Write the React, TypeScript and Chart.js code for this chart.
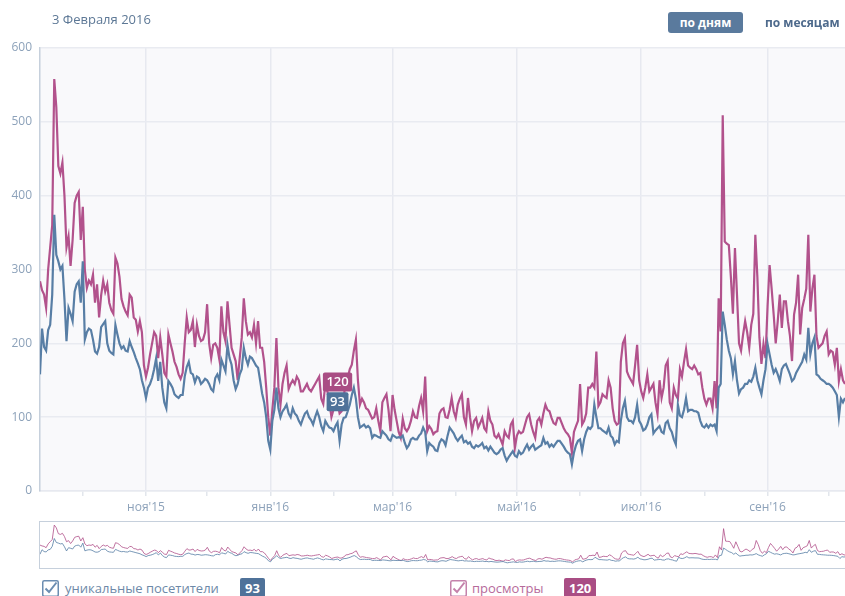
import React, { useEffect, useRef } from "react";
import { Chart, registerables } from "chart.js";
Chart.register(...registerables);

// Daily data starting 2015-09-10 (day 0)
const START_DATE = "2015-09-10";
const MONTH_TICK_DAYS = [21, 52, 82, 113, 144, 173, 204, 234, 265, 295, 326, 357, 387];
const MONTH_TICK_LABELS = ["", "ноя'15", "", "янв'16", "", "мар'16", "", "май'16", "", "июл'16", "", "сен'16", ""];
const Y_MIN = 0;
const Y_MAX = 600;
const Y_STEP = 100;

const VIEWS = [
  284, 272, 266, 248, 300, 330, 360, 558, 520, 440,
  430, 445, 400, 330, 345, 305, 340, 390, 400, 405,
  340, 385, 300, 275, 285, 280, 293, 255, 280, 235,
  265, 285, 270, 280, 255, 245, 240, 316, 308, 290,
  260, 250, 243, 238, 266, 262, 235, 232, 216, 230,
  215, 170, 155, 167, 185, 200, 215, 210, 180, 208,
  185, 160, 155, 212, 200, 189, 175, 168, 158, 152,
  160, 200, 235, 215, 218, 230, 195, 225, 210, 203,
  205, 215, 253, 200, 180, 198, 200, 194, 178, 250,
  215, 203, 257, 225, 194, 185, 176, 150, 180, 208,
  261, 230, 212, 215, 208, 225, 200, 230, 194, 194,
  175, 140, 100, 75, 110, 140, 207, 140, 117, 145,
  160, 170, 138, 145, 150, 145, 155, 150, 135, 135,
  140, 145, 138, 135, 140, 145, 150, 155, 125, 118,
  145, 135, 120, 100, 110, 117, 120, 105, 108, 125,
  150, 153, 165, 171, 190, 205, 150, 117, 125, 120,
  112, 110, 104, 98, 100, 112, 95, 81, 120, 126,
  131, 110, 81, 130, 110, 95, 80, 72, 98, 85,
  81, 86, 95, 108, 100, 99, 115, 126, 108, 155,
  81, 88, 84, 77, 80, 81, 105, 110, 112, 100,
  99, 110, 126, 108, 99, 117, 125, 131, 100, 90,
  126, 100, 81, 95, 99, 86, 92, 99, 85, 81,
  108, 95, 90, 75, 72, 77, 70, 63, 81, 75,
  72, 90, 95, 58, 75, 81, 78, 80, 90, 100,
  104, 90, 80, 72, 95, 99, 90, 105, 117, 110,
  108, 99, 92, 90, 99, 99, 92, 85, 80, 77,
  72, 52, 80, 88, 95, 145, 90, 95, 105, 140,
  140, 145, 140, 189, 115, 120, 131, 128, 126, 150,
  140, 112, 95, 90, 92, 175, 200, 207, 162, 155,
  150, 145, 170, 198, 150, 135, 126, 140, 158, 135,
  140, 145, 120, 104, 150, 126, 140, 170, 176, 120,
  112, 140, 130, 125, 165, 155, 175, 192, 170, 167,
  165, 170, 165, 158, 160, 140, 125, 117, 125, 125,
  112, 149, 112, 261, 216, 509, 338, 335, 333, 290,
  240, 329, 266, 200, 190, 212, 230, 215, 194, 225,
  240, 347, 290, 208, 172, 199, 180, 250, 306, 274,
  239, 200, 230, 266, 221, 257, 257, 230, 210, 176,
  239, 255, 293, 212, 248, 260, 274, 347, 243, 274,
  293, 210, 194, 197, 200, 210, 216, 185, 190, 188,
  171, 194, 149, 165, 150, 145,
];

const VISITORS = [
  158, 220, 195, 190, 218, 225, 266, 374, 320, 311,
  300, 305, 260, 203, 248, 240, 230, 270, 280, 284,
  255, 311, 205, 215, 220, 218, 205, 189, 186, 195,
  222, 226, 230, 200, 190, 187, 185, 225, 212, 200,
  193, 196, 190, 189, 203, 195, 188, 180, 173, 165,
  150, 140, 126, 140, 145, 153, 165, 180, 149, 175,
  140, 120, 112, 149, 145, 140, 131, 128, 126, 130,
  130, 155, 168, 175, 160, 158, 147, 155, 153, 145,
  148, 152, 150, 145, 138, 135, 153, 158, 150, 178,
  170, 162, 198, 180, 171, 150, 138, 145, 158, 165,
  194, 180, 171, 182, 180, 175, 170, 167, 150, 132,
  120, 100, 68, 56, 95, 110, 140, 112, 100, 108,
  112, 117, 105, 100, 112, 105, 102, 95, 90, 98,
  105, 108, 100, 96, 90, 100, 108, 100, 88, 81,
  95, 90, 86, 85, 81, 88, 93, 68, 90, 99,
  100, 108, 117, 130, 140, 125, 100, 86, 88, 90,
  86, 88, 85, 72, 76, 75, 73, 72, 81, 78,
  75, 70, 68, 76, 74, 72, 73, 72, 75, 65,
  58, 62, 70, 72, 70, 70, 75, 78, 86, 80,
  54, 65, 62, 60, 55, 54, 65, 70, 68, 62,
  75, 86, 82, 78, 72, 68, 72, 75, 66, 68,
  64, 66, 60, 58, 62, 60, 62, 65, 58, 60,
  55, 60, 56, 52, 50, 52, 56, 58, 48, 41,
  46, 50, 54, 48, 46, 54, 50, 52, 58, 63,
  56, 60, 63, 56, 58, 60, 62, 72, 64, 66,
  60, 63, 60, 64, 68, 68, 64, 60, 55, 52,
  50, 36, 52, 62, 68, 70, 54, 70, 80, 86,
  84, 88, 117, 100, 85, 85, 82, 80, 78, 86,
  75, 72, 63, 68, 66, 95, 112, 122, 100, 95,
  95, 92, 100, 117, 95, 90, 82, 84, 90, 100,
  104, 78, 82, 85, 88, 80, 78, 92, 95, 85,
  80, 70, 63, 117, 102, 100, 110, 126, 108, 110,
  110, 108, 108, 106, 95, 88, 86, 90, 86, 90,
  88, 90, 81, 140, 145, 243, 225, 205, 190, 180,
  158, 176, 150, 132, 138, 140, 145, 145, 150, 148,
  155, 167, 150, 140, 131, 150, 165, 199, 185, 171,
  160, 165, 158, 149, 165, 170, 172, 165, 158, 149,
  152, 160, 165, 170, 175, 185, 178, 221, 185, 200,
  208, 158, 156, 152, 150, 148, 145, 145, 143, 140,
  135, 130, 100, 125, 120, 126,
];

const HOVER_INDEX = 146;
const HOVER_TITLE = "3 Февраля 2016";
const SERIES_NAMES = ["уникальные посетители", "просмотры"];
const PERIOD_BUTTONS = ["по дням", "по месяцам"];

const BLUE = "#587ea5";
const PINK = "#b2528c";
const BLUE_BADGE = "#4f7299";
const PINK_BADGE = "#a94d84";
const FONT = "'Open Sans', 'DejaVu Sans', sans-serif";
const TICK_COLOR = "#8da2ba";

const LAST_DAY = VIEWS.length - 1;

const toPoints = (arr: number[]) => arr.map((v, i) => ({ x: i, y: v }));

const bgPlugin = {
  id: "plotBg",
  beforeDraw(chart: any) {
    const { ctx, chartArea: a } = chart;
    ctx.save();
    ctx.fillStyle = "#f9f9fb";
    ctx.fillRect(a.left, a.top, a.right - a.left, a.bottom - a.top);
    ctx.restore();
  },
};

const hoverPlugin = {
  id: "hoverLabels",
  afterDatasetsDraw(chart: any) {
    const ctx = chart.ctx;
    const items = [
      { ds: 1, color: PINK_BADGE, text: String(VIEWS[HOVER_INDEX]) },
      { ds: 0, color: BLUE_BADGE, text: String(VISITORS[HOVER_INDEX]) },
    ];
    ctx.save();
    ctx.font = `600 13px ${FONT}`;
    for (const it of items) {
      const pt = chart.getDatasetMeta(it.ds).data[HOVER_INDEX];
      if (!pt) continue;
      const w = ctx.measureText(it.text).width + 7;
      const h = 19;
      const x = pt.x - w / 2;
      const y = pt.y - 11 - h;
      ctx.fillStyle = it.color;
      ctx.beginPath();
      if ((ctx as any).roundRect) (ctx as any).roundRect(x, y, w, h, 2);
      else ctx.rect(x, y, w, h);
      ctx.fill();
      ctx.fillStyle = "#ffffff";
      ctx.textAlign = "center";
      ctx.textBaseline = "middle";
      ctx.fillText(it.text, pt.x, y + h / 2 + 0.5);
    }
    ctx.restore();
  },
};

function MainChart() {
  const ref = useRef<HTMLCanvasElement>(null);
  useEffect(() => {
    if (!ref.current) return;
    const chart = new Chart(ref.current, {
      type: "line",
      data: {
        datasets: [
          {
            label: SERIES_NAMES[0],
            data: toPoints(VISITORS),
            borderColor: BLUE,
            borderWidth: 2.2,
            pointRadius: 0,
            tension: 0,
          },
          {
            label: SERIES_NAMES[1],
            data: toPoints(VIEWS),
            borderColor: PINK,
            borderWidth: 2.2,
            pointRadius: 0,
            tension: 0,
          },
        ],
      },
      options: {
        responsive: false,
        animation: false,
        layout: { padding: { top: 48, left: 0, right: 0, bottom: 0 } },
        plugins: { legend: { display: false }, tooltip: { enabled: false } },
        scales: {
          x: {
            type: "linear",
            min: 0,
            max: LAST_DAY,
            afterBuildTicks: (s: any) => {
              s.ticks = MONTH_TICK_DAYS.map((v) => ({ value: v }));
            },
            afterFit: (s: any) => {
              s.height = 30;
            },
            ticks: {
              autoSkip: false,
              maxRotation: 0,
              padding: 4,
              color: TICK_COLOR,
              font: { family: FONT, size: 12 },
              callback: (v: any) => {
                const i = MONTH_TICK_DAYS.indexOf(Number(v));
                return i >= 0 ? MONTH_TICK_LABELS[i] : "";
              },
            },
            grid: {
              color: (c: any) => {
                const i = MONTH_TICK_DAYS.indexOf(c.tick ? c.tick.value : -1);
                return i >= 0 && MONTH_TICK_LABELS[i] ? "#e7e9f0" : "rgba(0,0,0,0)";
              },
              lineWidth: 1.5,
              tickColor: "#e2e6ec",
              tickLength: 5,
            },
            border: { display: true, color: "#e7e9f0", width: 1.5 },
          },
          y: {
            min: Y_MIN,
            max: Y_MAX,
            afterFit: (s: any) => {
              s.width = 40;
            },
            ticks: {
              stepSize: Y_STEP,
              padding: 8,
              color: TICK_COLOR,
              font: { family: FONT, size: 12 },
            },
            grid: { color: "#e9ebf1", lineWidth: 1.5, drawTicks: false },
            border: { display: true, color: "#c6d0dc", width: 1.5 },
          },
        },
      },
      plugins: [bgPlugin, hoverPlugin],
    } as any);
    return () => chart.destroy();
  }, []);
  return (
    <canvas
      ref={ref}
      width={845}
      height={521}
      style={{ position: "absolute", left: 0, top: 0, width: 845, height: 521 }}
    />
  );
}

function NavChart() {
  const ref = useRef<HTMLCanvasElement>(null);
  useEffect(() => {
    if (!ref.current) return;
    const chart = new Chart(ref.current, {
      type: "line",
      data: {
        datasets: [
          {
            data: toPoints(VISITORS),
            borderColor: "rgba(88,126,165,0.8)",
            borderWidth: 1,
            pointRadius: 0,
            tension: 0,
          },
          {
            data: toPoints(VIEWS),
            borderColor: "rgba(176,80,138,0.8)",
            borderWidth: 1,
            pointRadius: 0,
            tension: 0,
          },
        ],
      },
      options: {
        responsive: false,
        animation: false,
        layout: { padding: 0 },
        plugins: { legend: { display: false }, tooltip: { enabled: false } },
        scales: {
          x: { type: "linear", min: 0, max: LAST_DAY, display: false },
          y: { min: -30, max: Y_MAX, display: false },
        },
      },
    } as any);
    return () => chart.destroy();
  }, []);
  return (
    <div
      style={{
        position: "absolute",
        left: 39,
        top: 521,
        width: 820,
        height: 46,
        borderLeft: "1.5px solid #c6d0dc",
        borderTop: "1.5px solid #c6d0dc",
        borderBottom: "1.5px solid #c6d0dc",
        background: "#fff",
      }}
    >
      <canvas
        ref={ref}
        width={806}
        height={46}
        style={{ position: "absolute", left: 0, top: 0, width: 806, height: 46 }}
      />
    </div>
  );
}

function CheckBox({ color }: { color: string }) {
  return (
    <svg width={17} height={17} viewBox="0 0 17 17" style={{ display: "block" }}>
      <rect x={0.75} y={0.75} width={15.5} height={15.5} rx={1.5} fill="#fff" stroke={color} strokeWidth={1.5} />
      <path d="M3.5 8.5 L7 12 L14.5 2.5" fill="none" stroke={color} strokeWidth={2} />
    </svg>
  );
}

export default function App() {
  const textBase: React.CSSProperties = { position: "absolute", fontFamily: FONT, whiteSpace: "nowrap" };
  return (
    <div
      style={{
        position: "fixed",
        left: 0,
        top: 0,
        width: 845,
        height: 596,
        overflow: "hidden",
        background: "#fff",
      }}
    >
      <MainChart />
      <NavChart />
      <div style={{ ...textBase, left: 52, top: 10, fontSize: 13, color: "#5d7896", lineHeight: "18px" }}>
        {HOVER_TITLE}
      </div>
      <div
        style={{
          ...textBase,
          left: 668,
          top: 12,
          width: 75,
          height: 21,
          lineHeight: "21px",
          textAlign: "center",
          background: "#5a7a9d",
          borderRadius: 3,
          color: "#fff",
          fontWeight: 700,
          fontSize: 12,
        }}
      >
        {PERIOD_BUTTONS[0]}
      </div>
      <div
        style={{
          ...textBase,
          left: 765,
          top: 12,
          height: 21,
          lineHeight: "21px",
          color: "#4e6a8c",
          fontWeight: 700,
          fontSize: 12,
        }}
      >
        {PERIOD_BUTTONS[1]}
      </div>

      <div style={{ position: "absolute", left: 42, top: 580 }}>
        <CheckBox color="#6b8db1" />
      </div>
      <div style={{ ...textBase, left: 65, top: 579, fontSize: 13, lineHeight: "18px", color: "#6d89a8" }}>
        {SERIES_NAMES[0]}
      </div>
      <div
        style={{
          ...textBase,
          left: 240,
          top: 578,
          height: 20,
          lineHeight: "20px",
          padding: "0 5px",
          background: BLUE_BADGE,
          color: "#fff",
          fontWeight: 700,
          fontSize: 13,
          borderRadius: 2,
        }}
      >
        {VISITORS[HOVER_INDEX]}
      </div>

      <div style={{ position: "absolute", left: 450, top: 580 }}>
        <CheckBox color="#c482ab" />
      </div>
      <div style={{ ...textBase, left: 472, top: 579, fontSize: 13, lineHeight: "18px", color: "#b66a9b" }}>
        {SERIES_NAMES[1]}
      </div>
      <div
        style={{
          ...textBase,
          left: 564,
          top: 578,
          height: 20,
          lineHeight: "20px",
          padding: "0 5px",
          background: PINK_BADGE,
          color: "#fff",
          fontWeight: 700,
          fontSize: 13,
          borderRadius: 2,
        }}
      >
        {VIEWS[HOVER_INDEX]}
      </div>
    </div>
  );
}
